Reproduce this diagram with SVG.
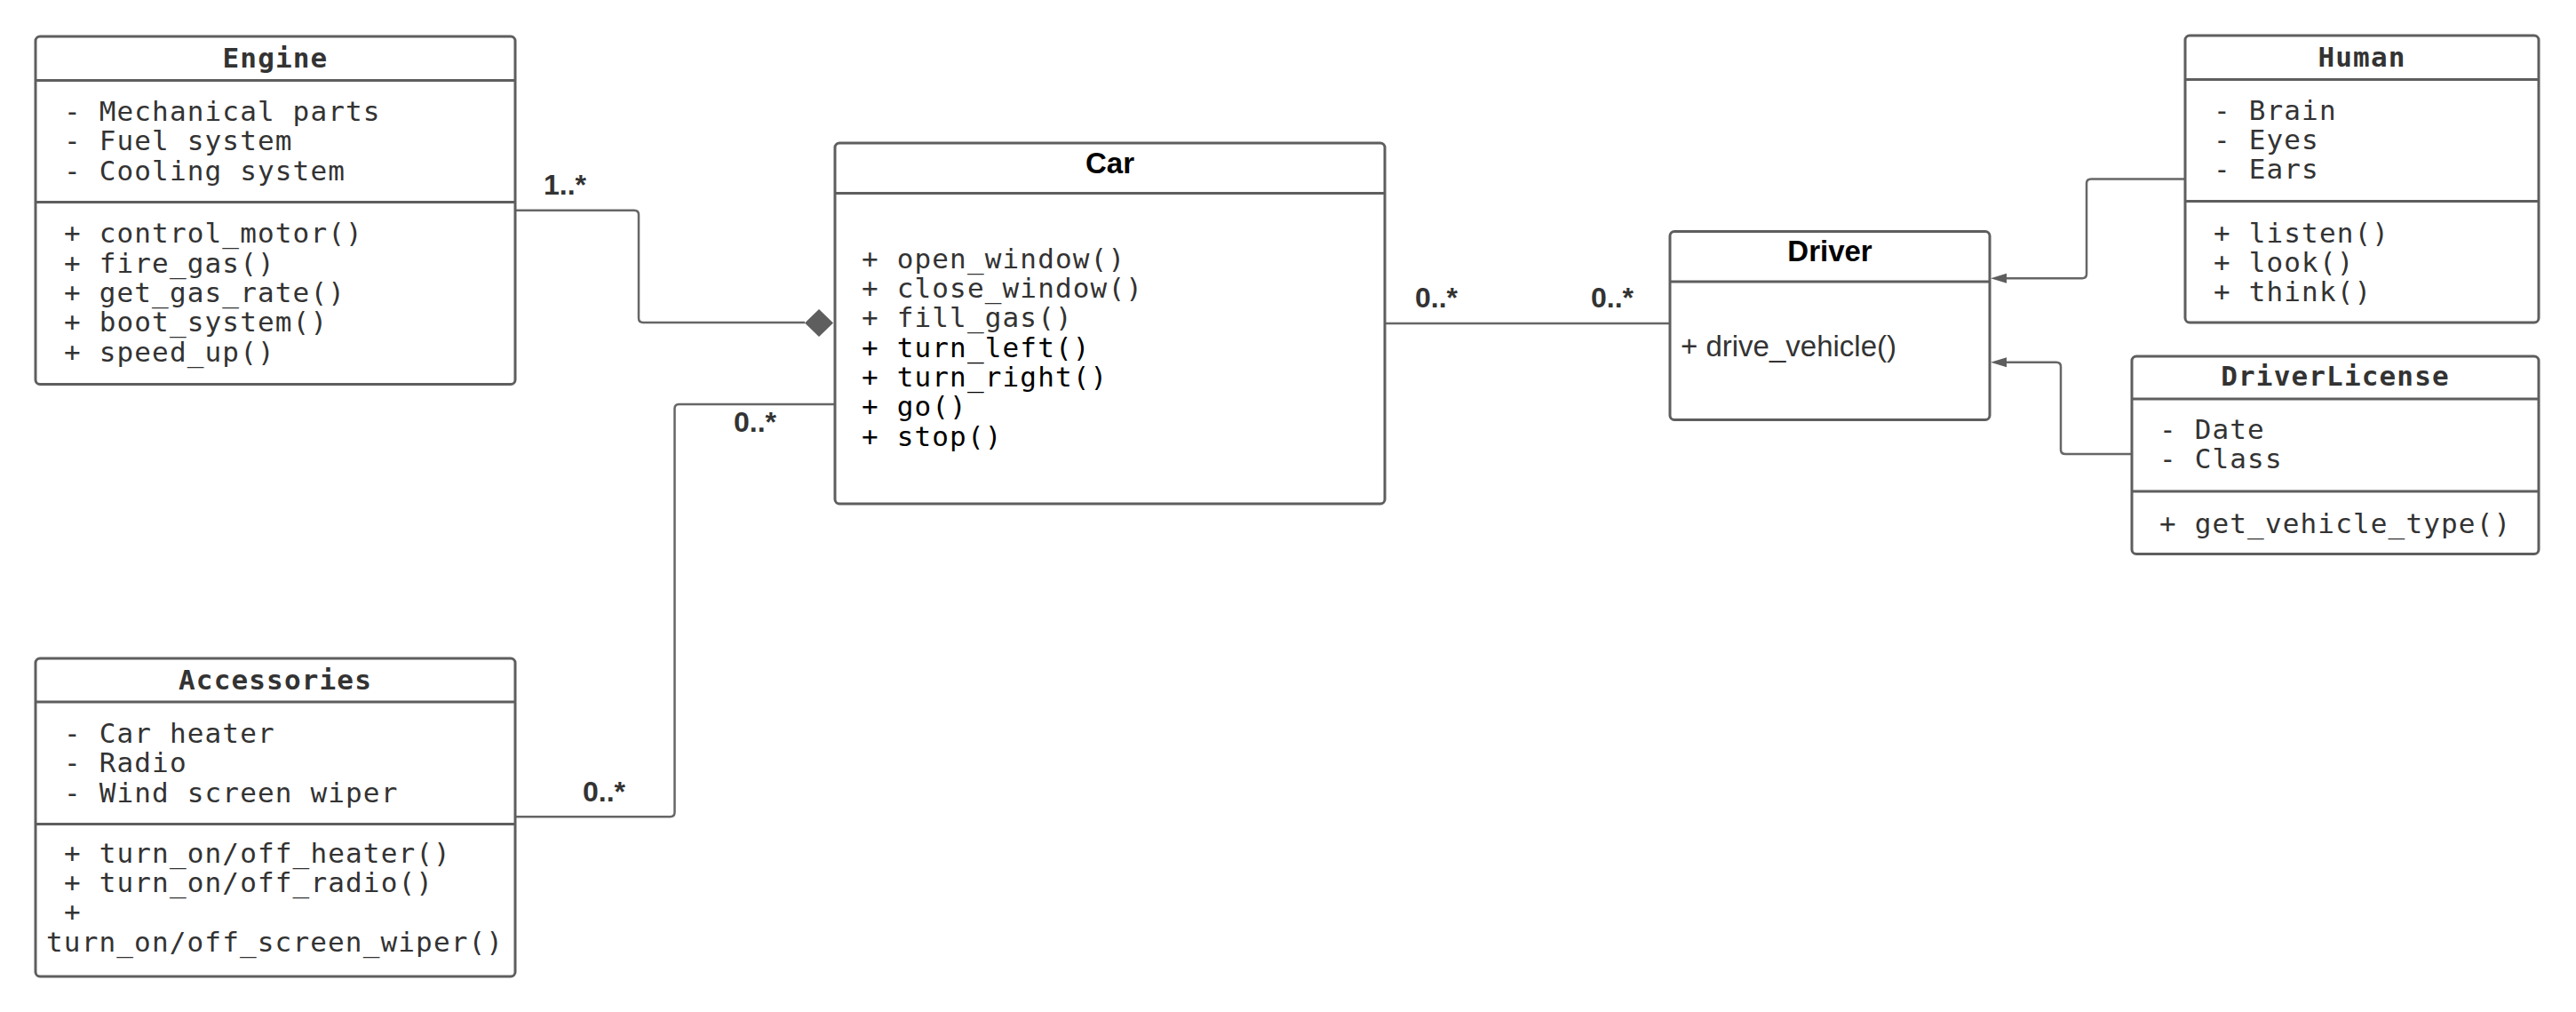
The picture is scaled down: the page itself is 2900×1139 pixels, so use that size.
<svg xmlns="http://www.w3.org/2000/svg" width="2900" height="1139" viewBox="0 0 2900 1139">
<style>
.box{fill:#fff;stroke:#5e5e5e;stroke-width:3}
.sep{stroke:#5e5e5e;stroke-width:3}
.mono{font-family:"DejaVu Sans Mono","Liberation Mono",monospace;font-size:31px;letter-spacing:1.15px;fill:#333}
.monob{font-family:"DejaVu Sans Mono","Liberation Mono",monospace;font-size:31px;letter-spacing:1.15px;font-weight:bold;fill:#333;text-anchor:middle}
.sansb{font-family:"Liberation Sans",Arial,sans-serif;font-size:33px;font-weight:bold;fill:#000;text-anchor:middle}
.sans{font-family:"Liberation Sans",Arial,sans-serif;font-size:33px;fill:#333}
.blk{fill:#000}
.lbl{font-family:"Liberation Sans",Arial,sans-serif;font-size:32px;font-weight:bold;fill:#333}
.conn{fill:none;stroke:#666;stroke-width:2.5}
.head{fill:#5e5e5e;stroke:none}
</style>
<rect width="2900" height="1139" fill="#fff"/>
<g id="connectors">
<path class="conn" d="M580,236.7 H714 Q719,236.7 719,241.7 V358 Q719,363 724,363 H906"/>
<polygon class="head" points="906,363.5 922,348 938,363.5 922,379"/>
<path class="conn" d="M580,919.3 H754.5 Q759.5,919.3 759.5,914.3 V460 Q759.5,455 764.5,455 H940"/>
<path class="conn" d="M1559,364 H1880"/>
<path class="conn" d="M2460,201.5 H2354 Q2349,201.5 2349,206.5 V308.3 Q2349,313.3 2344,313.3 H2256"/>
<polygon class="head" points="2241,313.3 2259,307.8 2259,318.8"/>
<path class="conn" d="M2400,511 H2325 Q2320,511 2320,506 V412.7 Q2320,407.7 2315,407.7 H2256"/>
<polygon class="head" points="2241,407.7 2259,402.2 2259,413.2"/>
<text class="lbl" x="612" y="219">1..*</text>
<text class="lbl" x="826" y="486">0..*</text>
<text class="lbl" x="656" y="902">0..*</text>
<text class="lbl" x="1593" y="346">0..*</text>
<text class="lbl" x="1791" y="346">0..*</text>
</g>
<g id="engine">
<rect class="box" x="40" y="41" width="540" height="391.5" rx="5"/>
<line class="sep" x1="40" y1="90.5" x2="580" y2="90.5"/>
<line class="sep" x1="40" y1="227.5" x2="580" y2="227.5"/>
<text class="monob" x="310" y="76">Engine</text>
<text class="mono" x="72" y="136">- Mechanical parts</text>
<text class="mono" x="72" y="169.3">- Fuel system</text>
<text class="mono" x="72" y="202.6">- Cooling system</text>
<text class="mono" x="72" y="273.4">+ control_motor()</text>
<text class="mono" x="72" y="306.7">+ fire_gas()</text>
<text class="mono" x="72" y="340">+ get_gas_rate()</text>
<text class="mono" x="72" y="373.3">+ boot_system()</text>
<text class="mono" x="72" y="406.6">+ speed_up()</text>
</g>
<g id="car">
<rect class="box" x="940" y="161" width="619" height="406" rx="5"/>
<line class="sep" x1="940" y1="217.5" x2="1559" y2="217.5"/>
<text class="sansb" x="1249.5" y="195">Car</text>
<text class="mono" x="970" y="301.7">+ open_window()</text>
<text class="mono" x="970" y="335">+ close_window()</text>
<text class="mono" x="970" y="368.3">+ fill_gas()</text>
<text class="mono blk" x="970" y="401.7">+ turn_left()</text>
<text class="mono blk" x="970" y="435">+ turn_right()</text>
<text class="mono blk" x="970" y="468.3">+ go()</text>
<text class="mono blk" x="970" y="501.7">+ stop()</text>
</g>
<g id="driver">
<rect class="box" x="1880" y="260.5" width="360" height="212" rx="5"/>
<line class="sep" x1="1880" y1="317" x2="2240" y2="317"/>
<text class="sansb" x="2060" y="294">Driver</text>
<text class="sans" x="1892" y="401">+ drive_vehicle()</text>
</g>
<g id="human">
<rect class="box" x="2460" y="40" width="398" height="323" rx="5"/>
<line class="sep" x1="2460" y1="89.5" x2="2858" y2="89.5"/>
<line class="sep" x1="2460" y1="226.5" x2="2858" y2="226.5"/>
<text class="monob" x="2659" y="74.5">Human</text>
<text class="mono" x="2492" y="135">- Brain</text>
<text class="mono" x="2492" y="168">- Eyes</text>
<text class="mono" x="2492" y="201">- Ears</text>
<text class="mono" x="2492" y="272.5">+ listen()</text>
<text class="mono" x="2492" y="305.5">+ look()</text>
<text class="mono" x="2492" y="338.5">+ think()</text>
</g>
<g id="driverlicense">
<rect class="box" x="2400" y="401" width="458" height="222.5" rx="5"/>
<line class="sep" x1="2400" y1="449" x2="2858" y2="449"/>
<line class="sep" x1="2400" y1="553" x2="2858" y2="553"/>
<text class="monob" x="2629" y="434">DriverLicense</text>
<text class="mono" x="2431" y="493.5">- Date</text>
<text class="mono" x="2431" y="527">- Class</text>
<text class="mono" x="2431" y="600">+ get_vehicle_type()</text>
</g>
<g id="accessories">
<rect class="box" x="40" y="741" width="540" height="358" rx="5"/>
<line class="sep" x1="40" y1="790" x2="580" y2="790"/>
<line class="sep" x1="40" y1="927.5" x2="580" y2="927.5"/>
<text class="monob" x="310" y="776">Accessories</text>
<text class="mono" x="72" y="836">- Car heater</text>
<text class="mono" x="72" y="869.3">- Radio</text>
<text class="mono" x="72" y="902.6">- Wind screen wiper</text>
<text class="mono" x="72" y="971">+ turn_on/off_heater()</text>
<text class="mono" x="72" y="1004">+ turn_on/off_radio()</text>
<text class="mono" x="72" y="1037">+</text>
<text class="mono" x="52" y="1070.5">turn_on/off_screen_wiper()</text>
</g>
</svg>
